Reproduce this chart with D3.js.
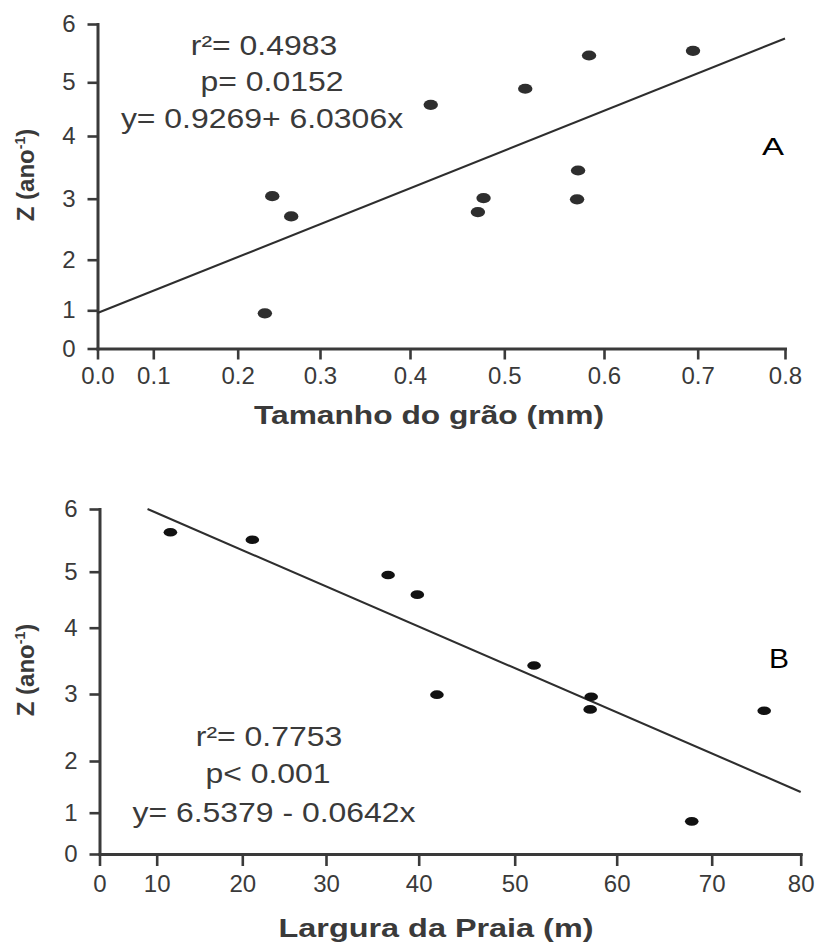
<!DOCTYPE html>
<html>
<head>
<meta charset="utf-8">
<script src="https://cdn.jsdelivr.net/npm/d3@7"></script>
<style>
  body { margin: 0; background: #fff; }
  svg { display: block; }
  text { font-family: "Liberation Sans", Arial, Helvetica, sans-serif; }
</style>
</head>
<body>
<svg id="chart" width="815" height="942"></svg>
<script>
// ---------------- DATA ----------------
// Panel A: Z vs grain size
const grainSize = [0.233, 0.242, 0.265, 0.422, 0.472, 0.478, 0.521, 0.573, 0.574, 0.585, 0.695];
const zGrain    = [0.92,  3.04,  2.71,  4.58,  2.78,  3.01,  4.88,  2.99,  3.45,  5.46,  5.54];
const grainTicks = [0, 0.1, 0.2, 0.3, 0.4, 0.5, 0.6, 0.7, 0.8];
const grainTickLabels = ["0.0", "0.1", "0.2", "0.3", "0.4", "0.5", "0.6", "0.7", "0.8"];
const fitGrain = [0.9269, 6.0306];      // intercept, slope
const fitGrainX = [0, 0.8];
const statsGrain = ["r²= 0.4983", "p= 0.0152", "y= 0.9269+ 6.0306x"];

// Panel B: Z vs beach width
const beachWidth = [11.6, 21.2, 36.7, 39.85, 41.9, 51.9, 57.4, 57.5, 67.9, 75.9];
const zBeach     = [5.63, 5.51, 4.94, 4.59,  2.99, 3.43, 2.77, 2.96, 0.79, 2.75];
const widthTicks = [0, 10, 20, 30, 40, 50, 60, 70, 80];
const widthTickLabels = ["0", "10", "20", "30", "40", "50", "60", "70", "80"];
const fitBeach = [6.5379, -0.0642];     // intercept, slope
const fitBeachX = [8.4, 80];
const statsBeach = ["r²= 0.7753", "p< 0.001", "y= 6.5379 - 0.0642x"];

// Shared y axis
const zTicks = [0, 1, 2, 3, 4, 5, 6];
const zTickLabels = ["0", "1", "2", "3", "4", "5", "6"];

const xTitles = ["Tamanho do grão (mm)", "Largura da Praia (m)"];
const panelLetters = ["A", "B"];

// ---------------- LAYOUT (pixel positions of the original's uneven tick marks) ----------------
const layout = [
  {
    xPix: [97.5, 153.3, 237.7, 320, 410, 504.3, 604, 697.7, 785],
    yPix: [348.5, 310.3, 259.7, 198.7, 136, 82.3, 24],
    xTickSize: 11, xPad: 7,
    statsPos: [[264, 55], [272, 91], [262, 128]],
    letterPos: [773, 155], letterSize: 24, letterLen: 22,
    xTitlePos: [429, 423.5], xTitleLen: 350,
    yTitleY: 175,
    rx: 7.2, ry: 5.1, dot: "#2e2e2e"
  },
  {
    xPix: [99.5, 156.7, 242.3, 326, 418.7, 514.7, 616.7, 711.7, 800.7],
    yPix: [854, 812.7, 761, 694, 627.7, 571.7, 509],
    xTickSize: 12, xPad: 9,
    statsPos: [[269, 746], [268, 783], [274, 821.5]],
    letterPos: [779, 668], letterSize: 27, letterLen: 20,
    xTitlePos: [436, 936.5], xTitleLen: 315,
    yTitleY: 670,
    rx: 6.8, ry: 4.3, dot: "#111"
  }
];

const ink = "#3a3a3a";
const svg = d3.select("#chart");

function stretchTo(sel, len) {
  sel.attr("textLength", len).attr("lengthAdjust", "spacingAndGlyphs");
}
function stretchBy(sel, k) {
  sel.each(function () {
    const L = this.getComputedTextLength();
    d3.select(this).attr("textLength", L * k).attr("lengthAdjust", "spacingAndGlyphs");
  });
}

function drawPanel(idx, xs, ys, xTicks, xLabels, fit, fitX, stats) {
  const L = layout[idx];
  const g = svg.append("g");
  const x = d3.scaleLinear().domain(xTicks).range(L.xPix);
  const y = d3.scaleLinear().domain(zTicks).range(L.yPix);

  const xAxis = g.append("g")
    .attr("transform", `translate(0,${L.yPix[0]})`)
    .call(d3.axisBottom(x).tickValues(xTicks)
      .tickFormat((d, i) => xLabels[i])
      .tickSize(L.xTickSize).tickSizeOuter(0).tickPadding(L.xPad));

  const yAxis = g.append("g")
    .attr("transform", `translate(${L.xPix[0]},0)`)
    .call(d3.axisLeft(y).tickValues(zTicks)
      .tickFormat((d, i) => zTickLabels[i])
      .tickSize(10).tickSizeOuter(0).tickPadding(12));

  [xAxis, yAxis].forEach(a => {
    a.attr("font-family", null).attr("font-size", null);
    a.select(".domain").attr("stroke", ink).attr("stroke-width", 3).attr("stroke-linecap", "square");
    a.selectAll(".tick line").attr("stroke", ink).attr("stroke-width", 2.6);
    a.selectAll(".tick text").attr("fill", ink).style("font-size", "24px");
  });

  // regression line
  g.append("line")
    .attr("x1", x(fitX[0])).attr("y1", y(fit[0] + fit[1] * fitX[0]))
    .attr("x2", x(fitX[1])).attr("y2", y(fit[0] + fit[1] * fitX[1]))
    .attr("stroke", "#2e2e2e").attr("stroke-width", 2.1);

  // points
  g.selectAll("ellipse.pt").data(d3.zip(xs, ys)).join("ellipse")
    .attr("class", "pt")
    .attr("cx", d => x(d[0])).attr("cy", d => y(d[1]))
    .attr("rx", L.rx).attr("ry", L.ry)
    .attr("fill", L.dot);

  // statistics text
  g.selectAll("text.stat").data(stats).join("text")
    .attr("class", "stat")
    .attr("x", (d, i) => L.statsPos[i][0]).attr("y", (d, i) => L.statsPos[i][1])
    .attr("text-anchor", "middle")
    .attr("fill", ink)
    .style("font-size", "28px")
    .text(d => d)
    .call(stretchBy, 1.14);

  // panel letter
  g.append("text")
    .attr("x", L.letterPos[0]).attr("y", L.letterPos[1])
    .attr("text-anchor", "middle").attr("fill", "#000")
    .style("font-size", L.letterSize + "px")
    .text(panelLetters[idx])
    .call(stretchTo, L.letterLen);

  // x title
  g.append("text")
    .attr("x", L.xTitlePos[0]).attr("y", L.xTitlePos[1])
    .attr("text-anchor", "middle").attr("fill", ink)
    .style("font-size", "26.5px").style("font-weight", "bold")
    .text(xTitles[idx])
    .call(stretchTo, L.xTitleLen);

  // y title
  const yt = g.append("text")
    .attr("transform", `translate(34,${L.yTitleY}) rotate(-90)`)
    .attr("text-anchor", "middle").attr("fill", ink)
    .style("font-size", "24px").style("font-weight", "bold");
  yt.append("tspan").text("Z (ano");
  yt.append("tspan").text("-1").style("font-size", "14px").attr("dy", "-9");
  yt.append("tspan").text(")").attr("dy", "9");
}

drawPanel(0, grainSize, zGrain, grainTicks, grainTickLabels, fitGrain, fitGrainX, statsGrain);
drawPanel(1, beachWidth, zBeach, widthTicks, widthTickLabels, fitBeach, fitBeachX, statsBeach);
</script>
</body>
</html>
